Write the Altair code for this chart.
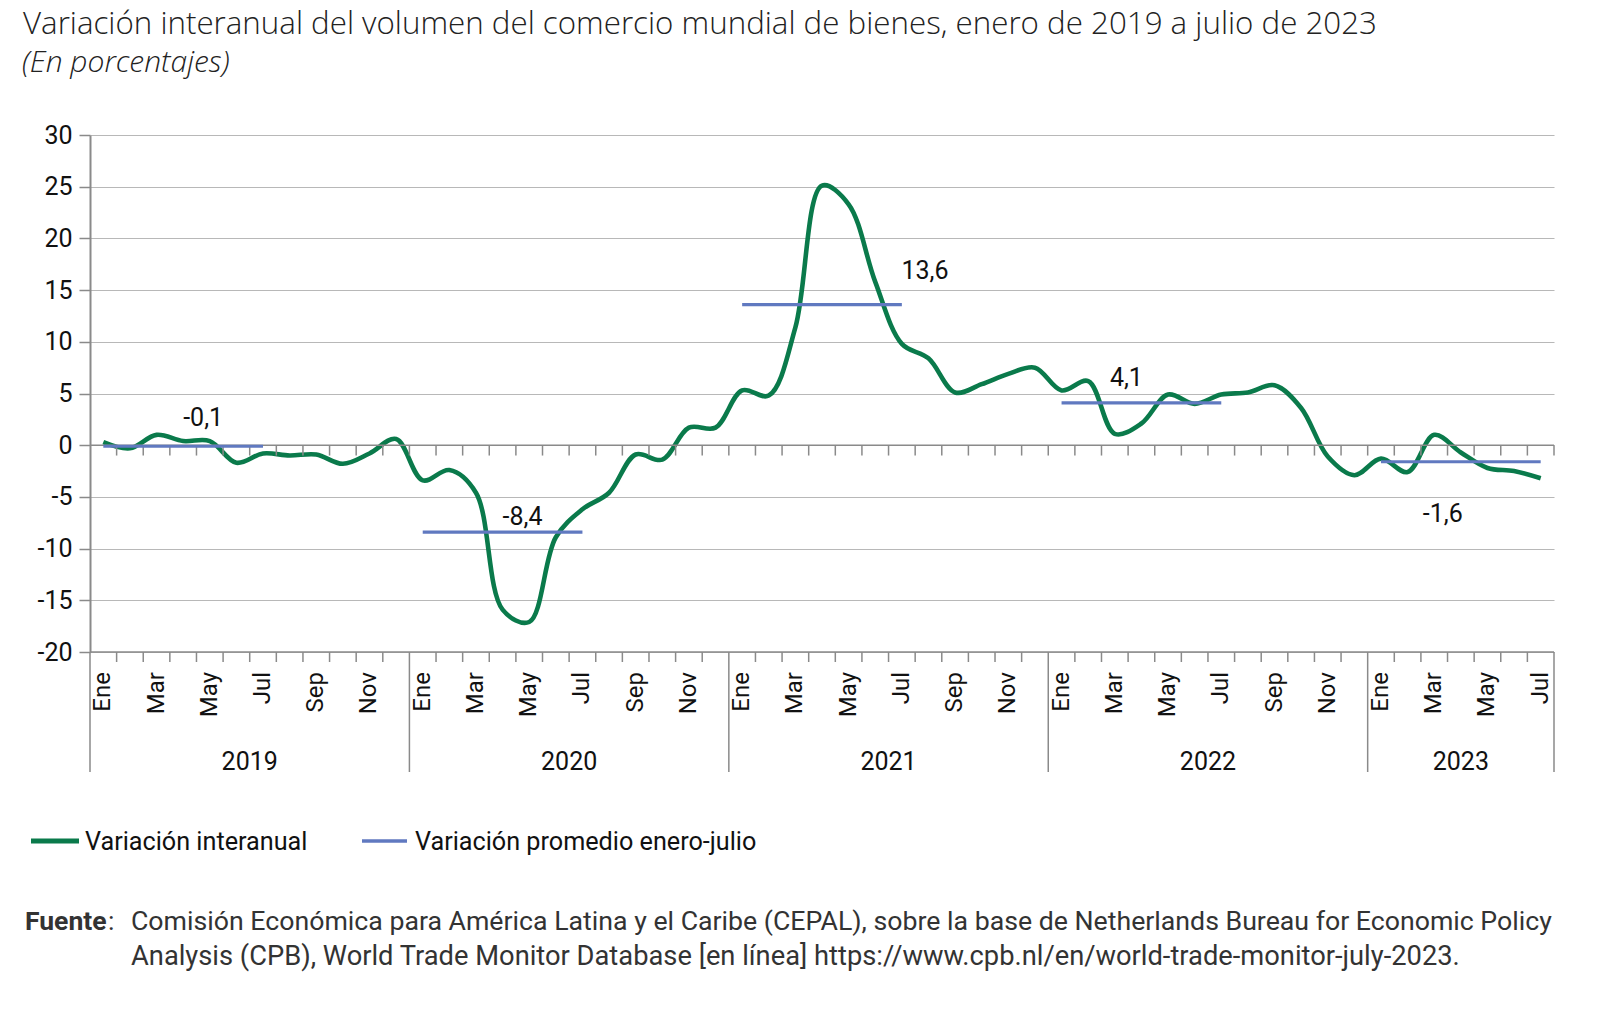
import altair as alt
import pandas as pd

# ---------------- data ----------------
years = [2019, 2020, 2021, 2022, 2023]
month_names = ["Ene", "Feb", "Mar", "Abr", "May", "Jun", "Jul", "Ago", "Sep", "Oct", "Nov", "Dic"]
yoy = [
    0.3, -0.3, 1.0, 0.4, 0.4, -1.7, -0.8, -1.0, -0.9, -1.8, -0.8, 0.6,
    -3.4, -2.4, -4.6, -15.9, -17.1, -8.9, -6.2, -4.6, -0.9, -1.4, 1.7, 1.7,
    5.3, 4.8, 11.4, 25.1, 23.3, 15.8, 9.8, 8.4, 5.1, 5.9, 6.9, 7.5,
    5.3, 6.2, 1.1, 2.1, 4.9, 4.0, 4.9, 5.1, 5.8, 3.6, -1.1, -2.9,
    -1.3, -2.6, 1.0, -0.7, -2.2, -2.5, -3.2,
]
avg_values = [-0.1, -8.4, 13.6, 4.1, -1.6]
avg_labels = ["-0,1", "-8,4", "13,6", "4,1", "-1,6"]
y_ticks = [-20, -15, -10, -5, 0, 5, 10, 15, 20, 25, 30]

title_text = "Variación interanual del volumen del comercio mundial de bienes, enero de 2019 a julio de 2023"
subtitle_text = "(En porcentajes)"
legend_names = ["Variación interanual", "Variación promedio enero-julio"]
source_line1 = "Comisión Económica para América Latina y el Caribe (CEPAL), sobre la base de Netherlands Bureau for Economic Policy"
source_line2 = "Analysis (CPB), World Trade Monitor Database [en línea] https://www.cpb.nl/en/world-trade-monitor-july-2023."

# ---------------- style ----------------
W, H = 1464, 517
FONT = "Roboto"
TITLE_FONT = "Open Sans"
GREEN = "#0a7a4b"
BLUE = "#6079c0"
GRID = "#b8b8b8"
AXIS = "#8a8a8a"
TXT = "#111111"

n = len(yoy)
df = pd.DataFrame({"t": [i + 0.5 for i in range(n)], "v": yoy})

xs = alt.Scale(domain=[0, n], nice=False, zero=False)
ys = alt.Scale(domain=[-20, 30], nice=False, zero=False)

y_axis = alt.Axis(
    values=y_ticks, title=None, grid=True, gridColor=GRID, gridWidth=1.2,
    domainColor=AXIS, domainWidth=2, tickColor=AXIS, tickWidth=1.5, tickSize=11,
    labelFont=FONT, labelFontSize=25, labelColor=TXT, labelPadding=7,
    labelExpr="'' + datum.value",
)

def X(f):
    return alt.X(f, scale=xs, axis=None)

def Y(f):
    return alt.Y(f, scale=ys, axis=y_axis)

# year segments
year_start = [12 * k for k in range(len(years))]
year_end = [min(12 * (k + 1), n) for k in range(len(years))]
avg_df = pd.DataFrame({
    "s": [s + 0.5 for s in year_start],
    "e": [s + 6.5 for s in year_start],
    "v": avg_values,
    "lab": avg_labels,
})

# ---------------- layers ----------------
line = alt.Chart(df).mark_line(interpolate="catmull-rom", color=GREEN, strokeWidth=4.6).encode(
    x=X("t:Q"), y=Y("v:Q"))

zero_df = pd.DataFrame({"a": [0], "b": [n], "v": [0]})
zero_line = alt.Chart(zero_df).mark_rule(color=AXIS, strokeWidth=1.6).encode(
    x=X("a:Q"), x2="b:Q", y=Y("v:Q"))
bottom_df = pd.DataFrame({"a": [0], "b": [n], "v": [-20]})
bottom_line = alt.Chart(bottom_df).mark_rule(color=AXIS, strokeWidth=1.6).encode(
    x=X("a:Q"), x2="b:Q", y=Y("v:Q"))

tick_df = pd.DataFrame({"k": list(range(1, n + 1)), "y0": [0] * n, "y1": [-1] * n})
zero_ticks = alt.Chart(tick_df).mark_rule(color=AXIS, strokeWidth=1.5).encode(
    x=X("k:Q"), y=Y("y0:Q"), y2="y1:Q")

year_bounds = sorted(set(year_start + [n]))
btick_df = pd.DataFrame({"k": [k for k in range(1, n) if k not in year_bounds]})
bottom_ticks = alt.Chart(btick_df).mark_rule(color=AXIS, strokeWidth=1.5).encode(
    x=X("k:Q"), y=alt.value(H), y2=alt.value(H + 10))
sep_df = pd.DataFrame({"k": year_bounds})
separators = alt.Chart(sep_df).mark_rule(color=AXIS, strokeWidth=1.5).encode(
    x=X("k:Q"), y=alt.value(H), y2=alt.value(H + 120))

mlab_df = pd.DataFrame({
    "t": [i + 0.5 for i in range(n) if i % 2 == 0],
    "lab": [month_names[i % 12] for i in range(n) if i % 2 == 0],
})
month_labels = alt.Chart(mlab_df).mark_text(
    angle=270, align="right", baseline="middle", font=FONT, fontSize=24, color=TXT
).encode(x=X("t:Q"), y=alt.value(H + 20), text="lab:N")

ylab_df = pd.DataFrame({
    "c": [(s + e) / 2 for s, e in zip(year_start, year_end)],
    "lab": [str(y) for y in years],
})
year_labels = alt.Chart(ylab_df).mark_text(
    align="center", baseline="alphabetic", font=FONT, fontSize=25, color=TXT
).encode(x=X("c:Q"), y=alt.value(H + 118), text="lab:N")

avg_rules = alt.Chart(avg_df).mark_rule(color=BLUE, strokeWidth=3.2).encode(
    x=X("s:Q"), x2="e:Q", y=Y("v:Q"))

# annotation offsets (pixels, relative to segment middle / value)
label_style = [(20, -20), (20, -7), (103, -26), (-15, -17), (-18, 60)]
ann_layers = []
for i, (ddx, ddy) in enumerate(label_style):
    sub = avg_df.iloc[[i]].reset_index(drop=True).copy()
    sub["m"] = (sub["s"] + sub["e"]) / 2
    ann_layers.append(
        alt.Chart(sub).mark_text(
            align="center", baseline="alphabetic", font=FONT, fontSize=25, color=TXT, dx=ddx, dy=ddy
        ).encode(x=X("m:Q"), y=Y("v:Q"), text="lab:N")
    )

one = pd.DataFrame({"z": [0]})

def txt(s, x, y, font=FONT, size=26, weight="normal", style="normal", color=TXT):
    return alt.Chart(one).mark_text(
        text=s, align="left", baseline="alphabetic", font=font, fontSize=size,
        fontWeight=weight, fontStyle=style, color=color
    ).encode(x=alt.value(x), y=alt.value(y))

def seg(x1, x2, y, color, w):
    return alt.Chart(one).mark_rule(color=color, strokeWidth=w).encode(
        x=alt.value(x1), x2=alt.value(x2), y=alt.value(y))

title = txt(title_text, -67, -101, font=TITLE_FONT, size=31.3, weight=300, color="#222222")
subtitle = txt(subtitle_text, -68, -63, font=TITLE_FONT, size=30, weight=300, style="italic", color="#222222")

leg = [
    seg(-59, -11, 706, GREEN, 5),
    txt(legend_names[0], -5, 715, size=25.2),
    seg(272, 317, 706, BLUE, 3.5),
    txt(legend_names[1], 325, 715, size=25.2),
]

src = [
    txt("Fuente", -65, 795, size=26.5, weight="bold", color="#333333"),
    txt(":", 18, 795, size=26.5, color="#333333"),
    txt(source_line1, 41, 795, size=26.7, color="#333333"),
    txt(source_line2, 41, 830, size=27.3, color="#333333"),
]

chart = alt.layer(
    line, zero_line, bottom_line, zero_ticks, bottom_ticks, separators,
    month_labels, year_labels,
    avg_rules, *ann_layers,
    title, subtitle, *leg, *src,
).properties(
    width=W, height=H,
    autosize=alt.AutoSizeParams(type="none"),
    padding={"left": 82, "top": 127, "right": 38, "bottom": 340},
).configure_view(stroke=None)

chart.save("out.html", embed_options={"renderer": "svg", "actions": False})
